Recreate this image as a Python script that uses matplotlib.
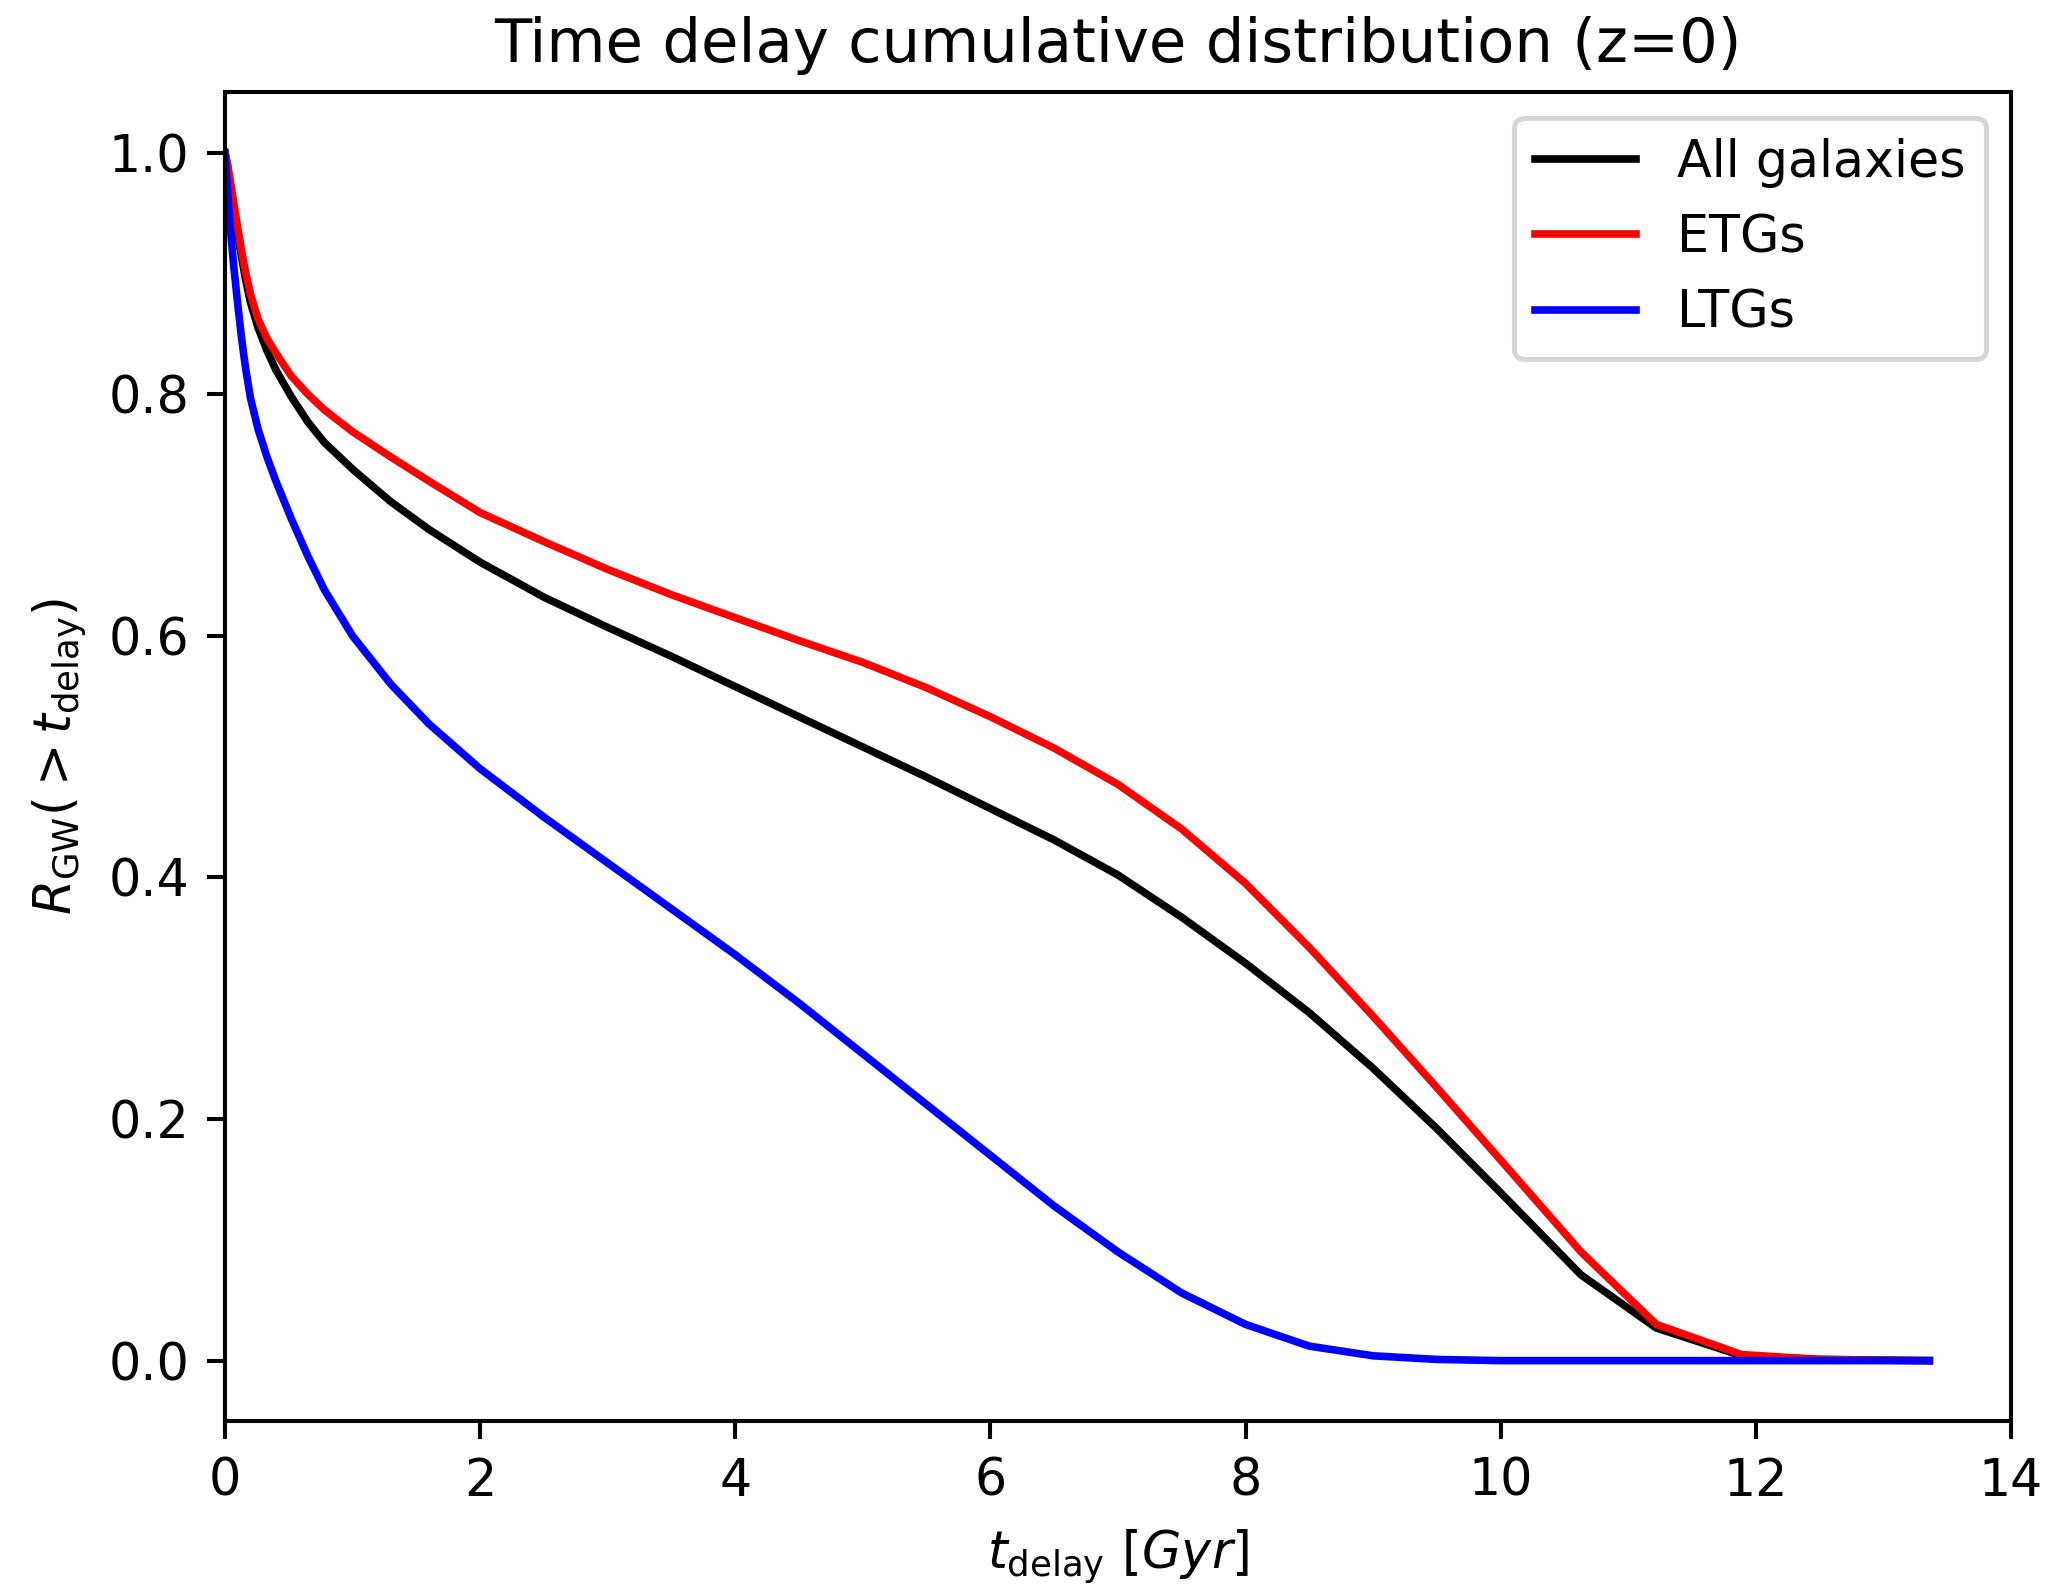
import numpy as np
import matplotlib
matplotlib.use("Agg")
import matplotlib.pyplot as plt

# delay time grid [Gyr]
t_delay = [0.0, 0.02, 0.04, 0.07, 0.1, 0.13, 0.16, 0.2, 0.26, 0.33, 0.4,
           0.52, 0.65, 0.78, 1.0, 1.3, 1.6, 2.0, 2.5, 3.0, 3.5, 4.0, 4.5,
           5.0, 5.5, 6.0, 6.5, 7.0, 7.5, 8.0, 8.5, 9.0, 9.5, 10.0, 10.63,
           11.22, 11.89, 12.5, 13.36]

# cumulative fraction R_GW(>t_delay)
r_all = [1.0, 0.99, 0.975, 0.952, 0.932, 0.914, 0.896, 0.876, 0.855, 0.836,
         0.82, 0.798, 0.777, 0.76, 0.738, 0.711, 0.688, 0.661, 0.632, 0.607,
         0.583, 0.558, 0.533, 0.508, 0.483, 0.457, 0.431, 0.402, 0.367,
         0.329, 0.288, 0.242, 0.192, 0.139, 0.071, 0.027, 0.004, 0.001, 0.0]
r_etg = [1.0, 0.99, 0.978, 0.958, 0.938, 0.919, 0.902, 0.883, 0.862, 0.846,
         0.834, 0.815, 0.8, 0.787, 0.769, 0.748, 0.728, 0.702, 0.678, 0.655,
         0.634, 0.615, 0.596, 0.578, 0.557, 0.533, 0.507, 0.477, 0.44, 0.395,
         0.342, 0.285, 0.226, 0.166, 0.09, 0.030, 0.005, 0.001, 0.0]
r_ltg = [1.0, 0.97, 0.94, 0.905, 0.875, 0.847, 0.823, 0.797, 0.771, 0.748,
         0.728, 0.697, 0.666, 0.638, 0.60, 0.56, 0.527, 0.49, 0.45, 0.412,
         0.374, 0.336, 0.296, 0.254, 0.212, 0.17, 0.128, 0.09, 0.056, 0.03,
         0.012, 0.004, 0.001, 0.0, 0.0, 0.0, 0.0, 0.0, 0.0]

labels = ["All galaxies", "ETGs", "LTGs"]
colors = ["k", "r", "b"]

DPI = 365


def main():
    fig = plt.figure(figsize=(2052 / DPI, 1589 / DPI), dpi=DPI)
    ax = fig.add_axes([0.1096, 0.1057, 0.8704, 0.8363])

    for r, lab, c in zip([r_all, r_etg, r_ltg], labels, colors):
        ax.plot(t_delay, r, color=c, lw=1.5, label=lab)

    ax.set_xlim(0, 14)
    ax.set_ylim(-0.05, 1.05)
    ax.set_xticks(np.arange(0, 15, 2))
    ax.set_yticks(np.arange(0, 1.01, 0.2))
    ax.set_xlabel(r"$t_{\rm delay}\ [Gyr]$")
    ax.set_ylabel(r"$R_{\rm GW}(>t_{\rm delay})$")
    ax.set_title("Time delay cumulative distribution (z=0)")
    ax.legend(loc="upper right")

    fig.savefig("out.png", dpi=DPI)


if __name__ == "__main__":
    main()
